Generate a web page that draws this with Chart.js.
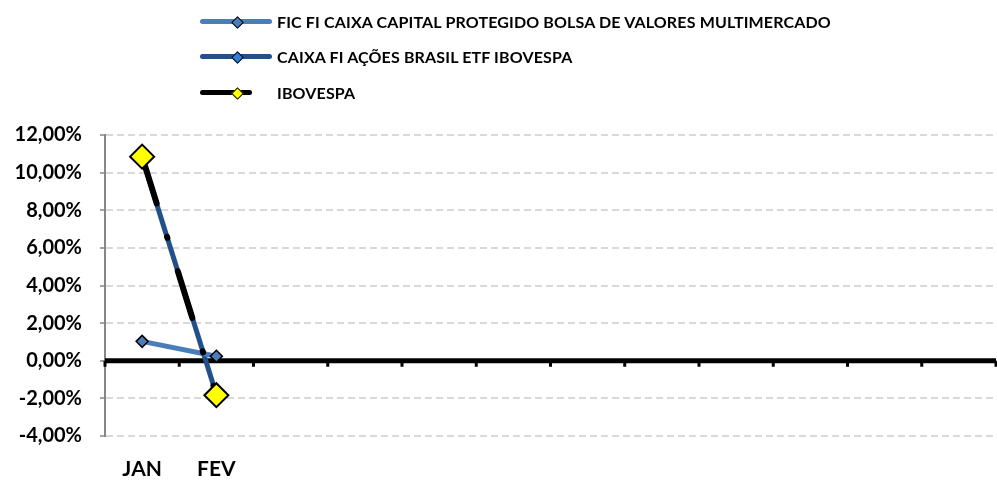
<!DOCTYPE html>
<html>
<head>
<meta charset="utf-8">
<script src="https://cdn.jsdelivr.net/npm/chart.js@4"></script>
<style>
  body { margin: 0; background: #fff; }
  #wrap { position: relative; width: 997px; height: 481px; }
  #myChart { position: absolute; left: 0; top: 0; }
  #legend { position: absolute; left: 200px; top: 0; font-family: Lato, sans-serif; font-weight: bold; font-size: 16px; letter-spacing: 0.15px; color: #000; }
  .row { position: absolute; left: 0; height: 20px; white-space: nowrap; }
  .line { position: absolute; top: 7px; left: 0; height: 5px; border-radius: 3px; }
  .dia { position: absolute; transform: rotate(45deg); border: 1.5px solid #000; box-sizing: border-box; }
  .txt { position: absolute; left: 77px; top: 0; line-height: 20px; }
</style>
</head>
<body>
<div id="wrap">
  <canvas id="myChart" width="997" height="481"></canvas>
  <div id="legend"></div>
</div>
<script>
// months on the x axis (only the first two were filled in)
const months = ['JAN', 'FEV', '', '', '', '', '', '', '', '', '', ''];

// monthly returns, in %
const fic = [1.03, 0.24];
const caixaEtf = [10.8, -1.8];
const ibovespa = [10.85, -1.83];

const seriesNames = [
  'FIC FI CAIXA CAPITAL PROTEGIDO BOLSA DE VALORES MULTIMERCADO',
  'CAIXA FI AÇÕES BRASIL ETF IBOVESPA',
  'IBOVESPA'
];

const fmt = v => v.toFixed(2).replace('.', ',') + '%';

// thick black zero line with little tick marks under it, like the excel one
const zeroAxis = {
  id: 'zeroAxis',
  beforeDatasetsDraw(chart) {
    const { ctx, chartArea, scales } = chart;
    const y0 = scales.y.getPixelForValue(0);
    ctx.save();
    ctx.strokeStyle = '#000';
    ctx.lineWidth = 5;
    ctx.beginPath();
    ctx.moveTo(chartArea.left, y0);
    ctx.lineTo(chartArea.right, y0);
    ctx.stroke();
    ctx.lineWidth = 3;
    for (let i = 0; i <= months.length; i++) {
      const x = scales.x.getPixelForValue(i - 0.5);
      ctx.beginPath();
      ctx.moveTo(x, y0);
      ctx.lineTo(x, y0 + 6);
      ctx.stroke();
    }
    ctx.restore();
  }
};

const ctx = document.getElementById('myChart');

new Chart(ctx, {
  type: 'line',
  data: {
    labels: months,
    datasets: [
      {
        label: seriesNames[0],
        data: fic,
        borderColor: '#4a7ebb',
        borderWidth: 5,
        pointStyle: 'rectRot',
        pointRadius: 6,
        pointBackgroundColor: '#4a7ebb',
        pointBorderColor: '#000',
        pointBorderWidth: 1.5,
        order: 2
      },
      {
        label: seriesNames[1],
        data: caixaEtf,
        borderColor: '#22508a',
        borderWidth: 5,
        pointStyle: 'rectRot',
        pointRadius: 6,
        pointBackgroundColor: '#2f7fd8',
        pointBorderColor: '#000',
        pointBorderWidth: 1.5,
        order: 3
      },
      {
        label: seriesNames[2],
        data: ibovespa,
        borderColor: '#000',
        borderWidth: 6,
        borderDash: [49, 35, 1, 35],
        borderCapStyle: 'round',
        pointStyle: 'rectRot',
        pointRadius: 12,
        pointBackgroundColor: '#ffff00',
        pointBorderColor: '#000',
        pointBorderWidth: 2,
        order: 1
      }
    ]
  },
  options: {
    responsive: false,
    animation: false,
    layout: { autoPadding: false, padding: { top: 135, right: 1, left: 0, bottom: 0 } },
    plugins: { legend: { display: false }, tooltip: { enabled: false } },
    scales: {
      x: {
        offset: true,
        afterFit: s => { s.height = 45; },
        // ticks are not drawn, their length just pushes the labels down
        grid: { display: false, drawTicks: true, tickLength: 21 },
        border: { display: false },
        ticks: {
          padding: 0,
          color: '#000',
          font: { family: 'Lato', weight: 'bold', size: 21 },
          maxRotation: 0,
          autoSkip: false
        }
      },
      y: {
        min: -4,
        max: 12,
        afterFit: s => { s.width = 105; s.paddingTop = 0; s.paddingBottom = 0; },
        ticks: {
          stepSize: 2,
          padding: 18,
          color: '#000',
          font: { family: 'Lato', weight: 'bold', size: 20 },
          callback: v => fmt(v)
        },
        grid: {
          color: c => c.tick && c.tick.value === 0 ? 'rgba(0,0,0,0)' : '#d9d9d9',
          lineWidth: 2,
          tickColor: '#868686',
          tickLength: 5,
          tickWidth: 1.5,
          tickBorderDash: []
        },
        border: { color: '#868686', width: 2, dash: [7, 4] }
      }
    }
  },
  plugins: [zeroAxis]
});

// legend built by hand: one series per row, left aligned like the source
const legendItems = [
  { color: '#4a7ebb', len: 72, fill: '#4a7ebb', size: 9, top: 12 },
  { color: '#22508a', len: 72, fill: '#2f7fd8', size: 9, top: 47 },
  { color: '#000', len: 52, fill: '#ffff00', size: 9, top: 83 }
];
const legend = document.getElementById('legend');
legendItems.forEach((it, i) => {
  const row = document.createElement('div');
  row.className = 'row';
  row.style.top = it.top + 'px';
  row.innerHTML =
    '<div class="line" style="width:' + it.len + 'px;background:' + it.color + '"></div>' +
    '<div class="dia" style="width:' + it.size + 'px;height:' + it.size + 'px;left:' + (37 - it.size / 2) +
    'px;top:' + (10 - it.size / 2) + 'px;background:' + it.fill + '"></div>' +
    '<span class="txt">' + seriesNames[i] + '</span>';
  legend.appendChild(row);
});
</script>
</body>
</html>
